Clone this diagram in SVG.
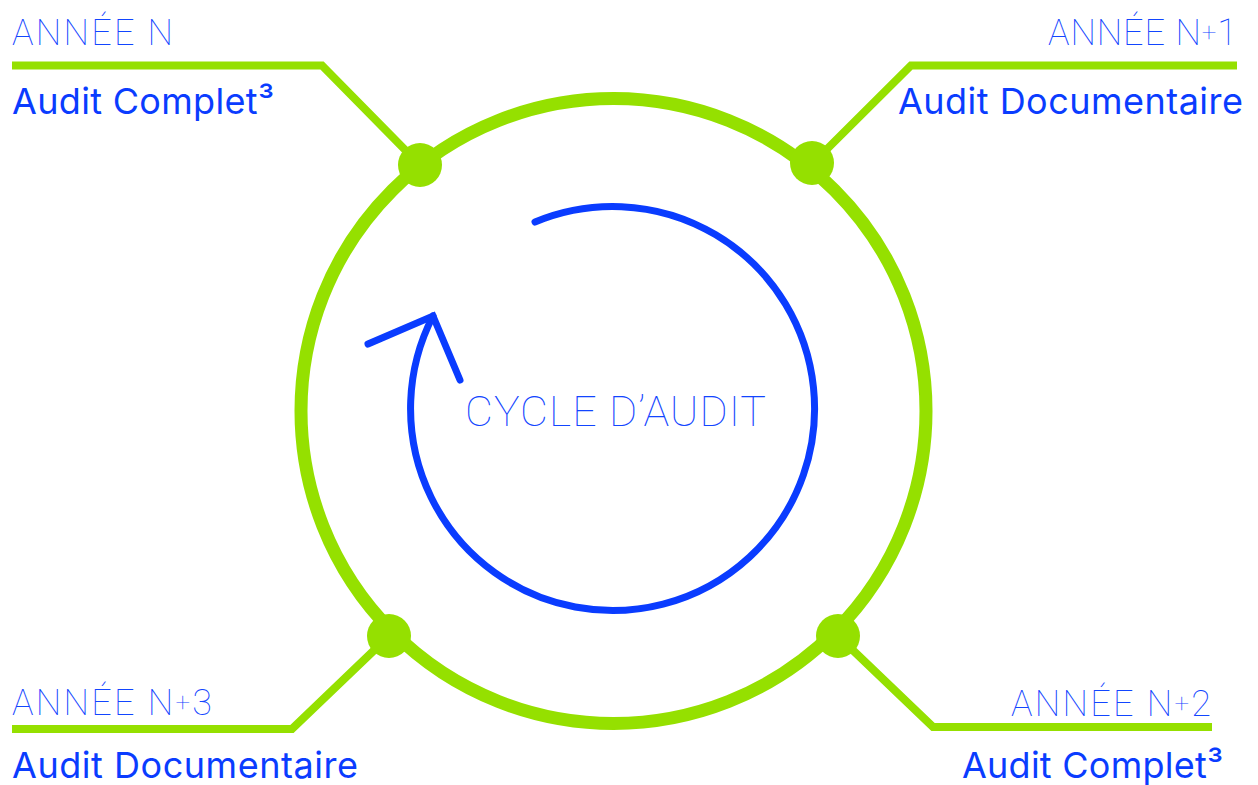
<svg xmlns="http://www.w3.org/2000/svg" width="1258" height="785" viewBox="0 0 1258 785">
<style>
.ring{fill:none;stroke:#95e000;stroke-width:13}
.conn{fill:none;stroke:#95e000;stroke-width:8;stroke-linejoin:miter}
.dot{fill:#95e000}
.year{font-family:Roboto,"Liberation Sans",sans-serif;font-weight:100;font-size:36px;fill:#1245ff}
.audit{font-family:Inter,"Liberation Sans",sans-serif;font-weight:400;font-size:36px;fill:#0a3cff}
.cycle{fill:none;stroke:#0a3cff;stroke-width:7;stroke-linecap:round;stroke-linejoin:miter}
.ctext{font-family:Roboto,"Liberation Sans",sans-serif;font-weight:100;font-size:43px;fill:#1245ff}
</style>
<rect width="1258" height="785" fill="#ffffff"/>
<circle class="ring" cx="613.5" cy="411" r="312.5"/>
<g id="connectors">
<polyline class="conn" points="12,65.5 322,65.5 420,165"/>
<polyline class="conn" points="1237,65.5 911,65.5 812,164"/>
<polyline class="conn" points="12,729 292,729 389,636"/>
<polyline class="conn" points="1212,727 933,727 838,636"/>
</g>
<g id="year-n">
<circle class="dot" cx="420" cy="165" r="22"/>
<text class="year" x="12" y="45" textLength="161" lengthAdjust="spacing">ANNÉE N</text>
<text class="audit" x="12" y="114" textLength="262" lengthAdjust="spacing">Audit Complet³</text>
</g>
<g id="year-n1">
<circle class="dot" cx="812" cy="163" r="22"/>
<text class="year" x="1237" y="45" text-anchor="end" textLength="189" lengthAdjust="spacing">ANNÉE N<tspan font-size="26" dy="-4">+</tspan><tspan dy="4">1</tspan></text>
<text class="audit" x="1243" y="114" text-anchor="end" textLength="345" lengthAdjust="spacing">Audit Documentaire</text>
</g>
<g id="year-n2">
<circle class="dot" cx="838" cy="636" r="22"/>
<text class="year" x="1211" y="716" text-anchor="end" textLength="200" lengthAdjust="spacing">ANNÉE N<tspan font-size="26" dy="-4">+</tspan><tspan dy="4">2</tspan></text>
<text class="audit" x="1223" y="778" text-anchor="end" textLength="261" lengthAdjust="spacing">Audit Complet³</text>
</g>
<g id="year-n3">
<circle class="dot" cx="389" cy="636" r="22"/>
<text class="year" x="12" y="715" textLength="200" lengthAdjust="spacing">ANNÉE N<tspan font-size="26" dy="-4">+</tspan><tspan dy="4">3</tspan></text>
<text class="audit" x="12" y="778" textLength="346" lengthAdjust="spacing">Audit Documentaire</text>
</g>
<g id="cycle">
<path class="cycle" d="M535,222 A202,202 0 1 1 433,316"/>
<polyline class="cycle" points="368,344 433,316 460,380"/>
<text class="ctext" x="465" y="426" textLength="301" lengthAdjust="spacing">CYCLE D’AUDIT</text>
</g>
</svg>
